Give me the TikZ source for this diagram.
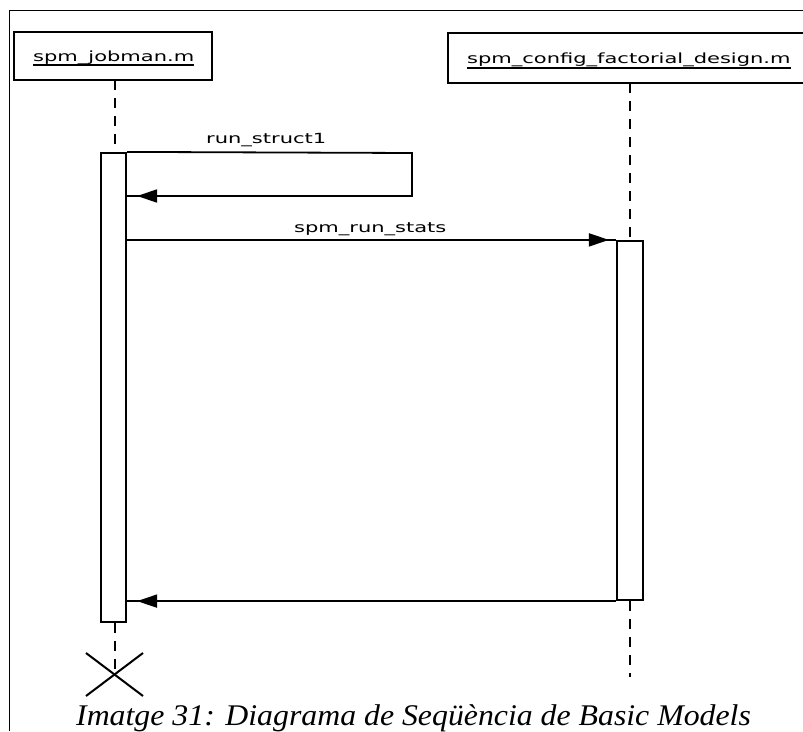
\documentclass[tikz,border=0pt]{standalone}
\usepackage{fontspec}
\usepackage{graphicx}
\setmainfont{Liberation Serif}
\newfontfamily\dejavu{DejaVu Sans}
\usetikzlibrary{arrows.meta}

% diagram labels: DejaVu Sans, widened
\newcommand{\lbl}[1]{{\dejavu\fontsize{14}{17}\selectfont\scalebox{1.5}[1]{#1}}}

\tikzset{
  lifebox/.style={draw, line width=2.4pt, fill=white},
  actbar/.style={draw, line width=2.2pt, fill=white, rectangle, inner sep=0pt,
                 minimum width=25pt},
  lifeline/.style={line width=1.3pt, dash pattern=on 10pt off 8pt},
  msg/.style={line width=1.8pt},
  msgtip/.style={line width=1.8pt,
                 -{Triangle[length=20pt,width=13pt,sep=#1]}},
  txt/.style={inner sep=0pt, anchor=base west},
  uline/.style={line width=1.2pt},
}

\begin{document}
\begin{tikzpicture}[x=1pt, y=-1pt]
  \useasboundingbox (0,0) rectangle (803,731);
  \clip (0,0) rectangle (803,731);

  % outer frame
  \draw[line width=1pt] (9,731) -- (9,10) -- (803,10);

  % object boxes
  \draw[lifebox] (14,32) rectangle (212,80);
  \draw[lifebox] (448,33) rectangle (830,83);
  \coordinate (h1) at (115,80);
  \coordinate (h2) at (630,83);

  \node[txt] (t1) at (33,61) {\lbl{spm\_jobman.m}};
  \draw[uline] ([yshift=-4pt]t1.base west) -- ([yshift=-4pt]t1.base east);
  \node[txt] (t2) at (467,63) {\lbl{spm\_config\_factorial\_design.m}};
  \draw[uline] ([yshift=-5pt]t2.base west) -- ([yshift=-5pt]t2.base east);

  % activation bars
  \node[actbar, minimum height=469pt] (bar1) at (113.5,387.5) {};
  \node[actbar, minimum height=359pt, minimum width=26pt] (bar2) at (630,420.5) {};

  % lifelines
  \coordinate (end1) at (115,675);
  \coordinate (end2) at (630,677);
  \draw[lifeline] (h1) -- (h1 |- bar1.north);
  \draw[lifeline] (h1 |- bar1.south) -- (end1);
  \draw[lifeline] (h2) -- (h2 |- bar2.north);
  \draw[lifeline] (h2 |- bar2.south) -- (end2);

  % destruction mark
  \draw[line width=2pt] ([shift={(-29pt,22pt)}]end1) -- ([shift={(28pt,-21pt)}]end1);
  \draw[line width=2pt] ([shift={(-29pt,-21pt)}]end1) -- ([shift={(28pt,22pt)}]end1);

  % self message run_struct1
  \coordinate (s1) at (412,153);
  \coordinate (s2) at (412,196);
  \draw[msg] (bar1.north east) -- (s1) -- (s2) -- (bar1.east |- s2);
  \draw[msgtip=10pt] (s2) -- (bar1.east |- s2);
  \node[txt] (l1) at (206,143) {\lbl{run\_struct1}};

  % call spm_run_stats
  \draw[msg] (bar1.east |- bar2.north) -- (bar2.north west);
  \draw[msgtip=7pt] (bar1.east |- bar2.north) -- (bar2.north west);
  \node[txt] (l2) at (294,232) {\lbl{spm\_run\_stats}};

  % return
  \draw[msg] (bar2.south west) -- (bar1.east |- bar2.south);
  \draw[msgtip=10pt] (bar2.south west) -- (bar1.east |- bar2.south);

  % caption
  \node[txt] (cap) at (76,725)
    {\fontsize{30}{36}\selectfont\itshape\scalebox{1.06}[1]{Imatge 31: Diagrama de Seqüència de Basic Models}};
\end{tikzpicture}
\end{document}
